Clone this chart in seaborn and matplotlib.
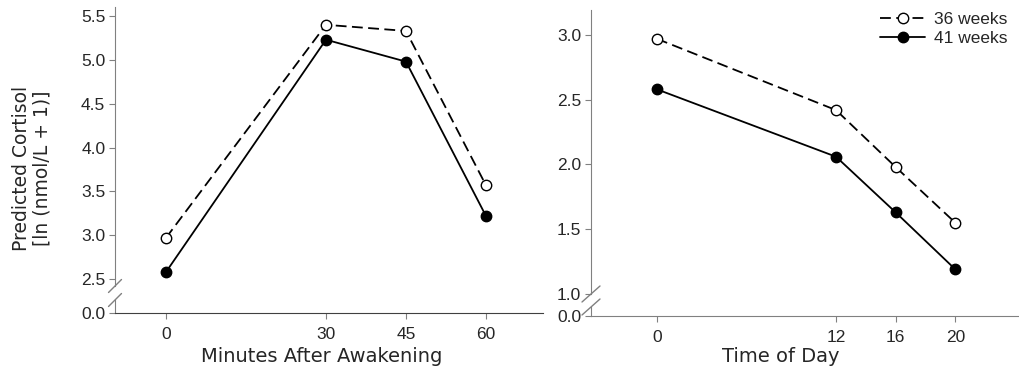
import numpy as np
import pandas as pd
import matplotlib.pyplot as plt
from matplotlib.lines import Line2D
from matplotlib.ticker import FormatStrFormatter
import seaborn as sns

# -----------------------------
# DATA
# -----------------------------
groups = ["36 weeks", "41 weeks"]

minutes = [0, 30, 45, 60]
awake_36 = [2.97, 5.40, 5.33, 3.57]
awake_41 = [2.58, 5.23, 4.98, 3.22]

hours = [0, 12, 16, 20]
day_36 = [2.97, 2.42, 1.98, 1.55]
day_41 = [2.58, 2.06, 1.63, 1.19]

awake_df = pd.DataFrame({
    "x": minutes * 2,
    "cortisol": awake_36 + awake_41,
    "group": [groups[0]] * 4 + [groups[1]] * 4,
})
day_df = pd.DataFrame({
    "x": hours * 2,
    "cortisol": day_36 + day_41,
    "group": [groups[0]] * 4 + [groups[1]] * 4,
})

# -----------------------------
# STYLE
# -----------------------------
sns.set_style("ticks")
plt.rcParams["font.family"] = ["Liberation Sans", "DejaVu Sans"]

W, H = 1020, 378
fig = plt.figure(figsize=(W / 100, H / 100), dpi=100)

spine_col = "#808080"
tick_size = 12.5
styles = {
    groups[0]: dict(mfc="white", dashes=(6, 3)),
    groups[1]: dict(mfc="black", dashes=""),
}


def px_box(x0, y0, x1, y1):
    # pixel box (top-left origin) -> figure fraction rect
    return [x0 / W, 1 - y1 / H, (x1 - x0) / W, (y1 - y0) / H]


def slash(cx, cy, w, h):
    fig.add_artist(Line2D([(cx - w / 2) / W, (cx + w / 2) / W],
                          [1 - (cy + h / 2) / H, 1 - (cy - h / 2) / H],
                          color=spine_col, lw=1.0, transform=fig.transFigure))


def panel(df, xlim, ylim, yticks, xticks, up_box, low_box, bottom_col, brk):
    ax = fig.add_axes(px_box(*up_box))
    axl = fig.add_axes(px_box(*low_box))
    for g in groups:
        sub = df[df["group"] == g]
        sns.lineplot(data=sub, x="x", y="cortisol", ax=ax, label=g,
                     color="black", lw=1.3, marker="o", markersize=7.5,
                     markeredgecolor="black", markeredgewidth=1.0,
                     mfc=styles[g]["mfc"], dashes=styles[g]["dashes"],
                     clip_on=False)
    ax.set_xlim(*xlim)
    ax.set_ylim(*ylim)
    ax.set_yticks(yticks)
    ax.yaxis.set_major_formatter(FormatStrFormatter("%.1f"))
    ax.set_xticks([])
    ax.set_xlabel("")
    ax.set_ylabel("")
    for s in ["top", "right", "bottom"]:
        ax.spines[s].set_visible(False)
    ax.spines["left"].set_color(spine_col)
    ax.tick_params(axis="y", length=4, color=spine_col, labelsize=tick_size, pad=3)
    ax.patch.set_alpha(0)

    axl.set_xlim(*xlim)
    axl.set_ylim(0, 1)
    axl.set_yticks([0])
    axl.yaxis.set_major_formatter(FormatStrFormatter("%.1f"))
    axl.set_xticks(xticks)
    for s in ["top", "right"]:
        axl.spines[s].set_visible(False)
    axl.spines["left"].set_color(spine_col)
    axl.spines["bottom"].set_color(bottom_col)
    axl.tick_params(axis="y", length=4, color=spine_col, labelsize=tick_size, pad=3)
    axl.tick_params(axis="x", length=4, color=spine_col, labelsize=tick_size, pad=6)
    axl.patch.set_alpha(0)

    cx, w, h = brk
    slash(cx, up_box[3], w, h)
    slash(cx, low_box[1], w, h)
    return ax, axl


ax1, ax1l = panel(awake_df, (-9.56, 70.7), (2.421, 5.603),
                  [2.5, 3.0, 3.5, 4.0, 4.5, 5.0, 5.5], minutes,
                  (115, 7, 543, 286), (115, 300, 543, 313), "#404040",
                  (115, 13, 13))
ax1.get_legend().remove()

ax2, ax2l = panel(day_df, (-4.43, 24.2), (1.0, 3.193),
                  [1.0, 1.5, 2.0, 2.5, 3.0], hours,
                  (591, 10, 1018, 294), (591, 307, 1018, 316), spine_col,
                  (591, 18, 16))

ax2.legend(loc="upper right", bbox_to_anchor=(1.0, 1.03), frameon=False,
           fontsize=12.5, handlelength=2.6, handletextpad=0.5,
           labelspacing=0.2, borderaxespad=0.2)

fig.text(322 / W, 1 - 356 / H, "Minutes After Awakening",
         family="DejaVu Sans", fontsize=14, ha="center", va="center")
fig.text(781 / W, 1 - 356 / H, "Time of Day",
         family="DejaVu Sans", fontsize=14, ha="center", va="center")
fig.text(32 / W, 1 - 168 / H, "Predicted Cortisol\n[ln (nmol/L + 1)]",
         family="DejaVu Sans", fontsize=13.5, ha="center", va="center",
         rotation=90, multialignment="center", linespacing=1.1)

plt.savefig("out.png", dpi=100)
plt.close()
